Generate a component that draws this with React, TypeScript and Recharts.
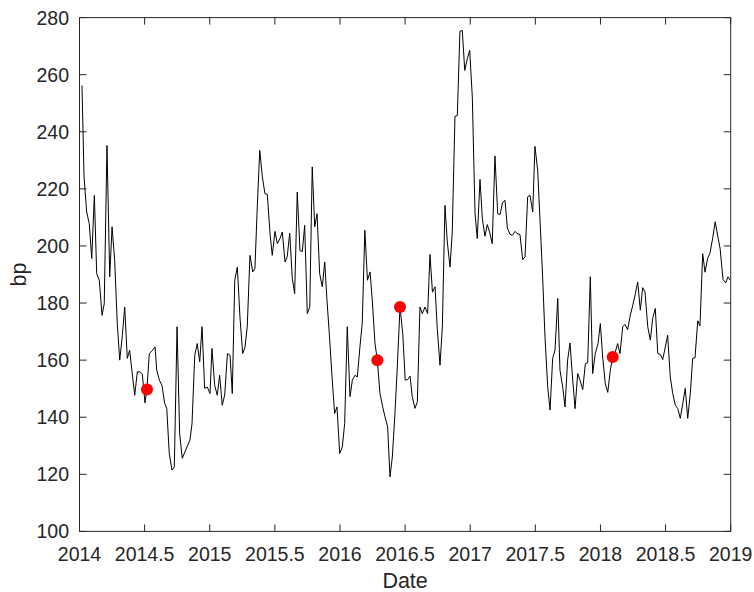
import React from 'react';
import { ComposedChart, Line, Scatter, XAxis, YAxis } from 'recharts';

const dates = [
  2014.019, 2014.035, 2014.055, 2014.075, 2014.094, 2014.114, 2014.132, 2014.152, 2014.173, 2014.190,
  2014.211, 2014.232, 2014.250, 2014.270, 2014.290, 2014.309, 2014.329, 2014.347, 2014.367, 2014.385,
  2014.405, 2014.424, 2014.444, 2014.465, 2014.482, 2014.503, 2014.518, 2014.536, 2014.562, 2014.580,
  2014.593, 2014.613, 2014.633, 2014.654, 2014.670, 2014.689, 2014.710, 2014.728, 2014.749, 2014.769,
  2014.789, 2014.810, 2014.831, 2014.848, 2014.864, 2014.885, 2014.904, 2014.923, 2014.941, 2014.961,
  2014.981, 2015.002, 2015.017, 2015.038, 2015.058, 2015.076, 2015.096, 2015.115, 2015.136, 2015.156,
  2015.173, 2015.192, 2015.212, 2015.232, 2015.253, 2015.271, 2015.288, 2015.309, 2015.330, 2015.347,
  2015.365, 2015.384, 2015.404, 2015.424, 2015.442, 2015.463, 2015.480, 2015.501, 2015.519, 2015.539,
  2015.557, 2015.578, 2015.595, 2015.614, 2015.634, 2015.652, 2015.672, 2015.693, 2015.711, 2015.729,
  2015.749, 2015.768, 2015.787, 2015.806, 2015.824, 2015.844, 2015.864, 2015.883, 2015.900, 2015.918,
  2015.939, 2015.959, 2015.977, 2015.998, 2016.018, 2016.036, 2016.056, 2016.077, 2016.095, 2016.115,
  2016.133, 2016.154, 2016.171, 2016.191, 2016.211, 2016.231, 2016.248, 2016.269, 2016.287, 2016.307,
  2016.328, 2016.346, 2016.366, 2016.384, 2016.402, 2016.422, 2016.440, 2016.461, 2016.482, 2016.501,
  2016.520, 2016.538, 2016.555, 2016.576, 2016.594, 2016.614, 2016.632, 2016.653, 2016.673, 2016.691,
  2016.710, 2016.730, 2016.747, 2016.768, 2016.786, 2016.806, 2016.824, 2016.845, 2016.862, 2016.883,
  2016.901, 2016.921, 2016.939, 2016.958, 2016.978, 2016.996, 2017.016, 2017.037, 2017.054, 2017.075,
  2017.093, 2017.113, 2017.131, 2017.152, 2017.169, 2017.190, 2017.211, 2017.229, 2017.248, 2017.267,
  2017.285, 2017.305, 2017.323, 2017.344, 2017.361, 2017.382, 2017.403, 2017.421, 2017.441, 2017.459,
  2017.480, 2017.497, 2017.518, 2017.536, 2017.556, 2017.574, 2017.595, 2017.613, 2017.633, 2017.651,
  2017.672, 2017.689, 2017.710, 2017.728, 2017.748, 2017.766, 2017.787, 2017.805, 2017.825, 2017.843,
  2017.864, 2017.884, 2017.902, 2017.922, 2017.940, 2017.960, 2017.981, 2017.999, 2018.017, 2018.037,
  2018.056, 2018.076, 2018.094, 2018.114, 2018.132, 2018.150, 2018.171, 2018.188, 2018.209, 2018.229,
  2018.248, 2018.268, 2018.286, 2018.306, 2018.324, 2018.342, 2018.363, 2018.383, 2018.401, 2018.421,
  2018.440, 2018.460, 2018.478, 2018.498, 2018.516, 2018.536, 2018.555, 2018.575, 2018.593, 2018.613,
  2018.632, 2018.651, 2018.670, 2018.690, 2018.708, 2018.726, 2018.747, 2018.764, 2018.785, 2018.803,
  2018.823, 2018.841, 2018.863, 2018.881, 2018.901, 2018.919, 2018.941, 2018.962, 2018.979, 2018.997,
];

const spreads = [
  256.2, 224.2, 211.9, 207.8, 195.6, 217.7, 190.3, 188, 175.7, 179.8,
  235.2, 189.2, 206.7, 195, 172.8, 160, 168.7, 178.6, 160.6, 163.5,
  155.3, 147.7, 155.9, 155.9, 155.1, 145, 150, 162.3, 163.5, 164.6,
  156.5, 153, 151.2, 144.8, 143.1, 127.3, 121.5, 122.6, 171.7, 134.3,
  125.6, 127.9, 130.2, 132, 137.8, 161.7, 165.8, 159.4, 171.7, 150.1,
  150.6, 148.3, 164.1, 151.2, 147.7, 154.7, 144.2, 147.8, 162.3, 161.7,
  148.3, 188, 192.6, 175.1, 162.3, 164.6, 171.7, 196.7, 190.9, 192.1,
  213.7, 233.5, 224.2, 218.3, 218.1, 204.3, 196.7, 205.1, 200.8, 202.6,
  204.9, 194.4, 196.2, 204.5, 188.6, 183.3, 218.9, 198.3, 198.1, 207.2,
  176.3, 178.6, 227.7, 206.7, 211.3, 190.3, 185.7, 194.4, 181, 169.3,
  154.1, 141.3, 143.6, 127.3, 129.6, 137.8, 171.7, 147.2, 153, 154.7,
  154.1, 165, 173, 205.5, 188, 190.9, 181, 165.8, 160, 148.3,
  143.6, 140.1, 136.6, 119.1, 126.1, 141.3, 157.6, 178.6, 169.3, 153,
  153.2, 154.4, 147.2, 143.1, 145.4, 178.6, 176.3, 178.6, 176.3, 197,
  183.8, 185.7, 171, 158.2, 171.7, 214.2, 201.4, 192.6, 204.9, 245.4,
  245.7, 275.2, 275.5, 261.5, 265.6, 268.5, 252.2, 211.3, 202.6, 223.3,
  209.6, 203.4, 207.5, 204.3, 200.8, 231.5, 211.3, 211, 215.2, 216,
  206.4, 204.1, 203.7, 205.1, 204.3, 204, 195.2, 196.2, 217.2, 217.7,
  211.9, 234.9, 226.5, 209, 189.2, 168.2, 150.6, 142.5, 160.6, 163.5,
  181.6, 156.5, 150.6, 143.6, 160, 166, 153, 143, 155.3, 153,
  149.7, 158.8, 159.1, 189.2, 155.3, 162.3, 165.8, 172.8, 161.1, 151.8,
  148.7, 156.5, 161.1, 162.9, 165.8, 162.3, 171.7, 172.5, 170.7, 175.7,
  179.2, 183.3, 187.4, 177.5, 185.4, 183.9, 171.7, 167, 174.6, 178.1,
  162.3, 162, 160.2, 164.6, 168.7, 154.1, 148.3, 144.2, 143.1, 139.6,
  144.8, 150.1, 139.6, 148.3, 160.6, 160.8, 173.8, 172, 197.3, 190.8,
  195.7, 197.5, 203.1, 208.5, 203.4, 199, 188.2, 187.1, 189.2, 188,
];

const markerDates = [2014.518, 2016.287, 2016.461, 2018.094];
const markerValues = [149.7, 160, 178.6, 161.1];

const xTicks = [2014, 2014.5, 2015, 2015.5, 2016, 2016.5, 2017, 2017.5, 2018, 2018.5, 2019];
const yTicks = [100, 120, 140, 160, 180, 200, 220, 240, 260, 280];

const lineData = dates.map((t, i) => ({ t, v: spreads[i] }));
const markerData = markerDates.map((t, i) => ({ t, v: markerValues[i] }));

const AXIS = '#262626';
const FONT = '"Liberation Sans", Arial, Helvetica, sans-serif';
const TICK_FS = 19.5;
const LABEL_FS = 21.5;
const TL = 7;

const BottomTick = (props: any) => {
  const { x, y, payload } = props;
  return (
    <g>
      <line x1={x} x2={x} y1={y} y2={y - TL} stroke={AXIS} strokeWidth={1} />
      <text x={x} y={y + 29.5} textAnchor="middle" fill={AXIS} fontSize={TICK_FS} fontFamily={FONT}>
        {String(payload.value)}
      </text>
    </g>
  );
};

const TopTick = (props: any) => {
  const { x, y } = props;
  return <line x1={x} x2={x} y1={y} y2={y + TL} stroke={AXIS} strokeWidth={1} />;
};

const LeftTick = (props: any) => {
  const { x, y, payload } = props;
  return (
    <g>
      <line x1={x} x2={x + TL} y1={y} y2={y} stroke={AXIS} strokeWidth={1} />
      <text x={x - 10.5} y={y + 7} textAnchor="end" fill={AXIS} fontSize={TICK_FS} fontFamily={FONT}>
        {String(payload.value)}
      </text>
    </g>
  );
};

const RightTick = (props: any) => {
  const { x, y } = props;
  return <line x1={x} x2={x - TL} y1={y} y2={y} stroke={AXIS} strokeWidth={1} />;
};

const Dot = (props: any) => {
  const { cx, cy } = props;
  if (cx == null || cy == null) return null;
  return <circle cx={cx} cy={cy} r={6} fill="#ff0000" stroke="none" />;
};

export default function App() {
  return (
    <div style={{ position: 'absolute', left: 0, top: 0, width: 754, height: 592, background: '#ffffff' }}>
      <ComposedChart
        width={754}
        height={592}
        data={lineData}
        style={{ overflow: 'visible' }}
        margin={{ top: 16.6, right: 22.3, bottom: 5.6, left: 15.5 }}
      >
        <XAxis
          xAxisId="b"
          type="number"
          dataKey="t"
          domain={[2014, 2019]}
          ticks={xTicks}
          allowDataOverflow
          orientation="bottom"
          height={55}
          tickSize={0}
          tickMargin={0}
          axisLine={{ stroke: AXIS, strokeWidth: 1 }}
          tickLine={false}
          tick={BottomTick}
          interval={0}
          label={{ value: 'Date', position: 'insideBottom', offset: -2, style: { fill: AXIS, fontSize: LABEL_FS, fontFamily: FONT } }}
        />
        <XAxis
          xAxisId="top"
          type="number"
          dataKey="t"
          domain={[2014, 2019]}
          ticks={xTicks}
          allowDataOverflow
          orientation="top"
          height={1}
          tickSize={0}
          tickMargin={0}
          axisLine={{ stroke: AXIS, strokeWidth: 1 }}
          tickLine={false}
          tick={TopTick}
          interval={0}
        />
        <YAxis
          yAxisId="l"
          type="number"
          domain={[100, 280]}
          ticks={yTicks}
          allowDataOverflow
          orientation="left"
          width={64}
          tickSize={0}
          tickMargin={0}
          axisLine={{ stroke: AXIS, strokeWidth: 1 }}
          tickLine={false}
          tick={LeftTick}
          interval={0}
          label={{ value: 'bp', angle: -90, position: 'insideLeft', offset: 3, style: { fill: AXIS, fontSize: LABEL_FS, fontFamily: FONT, textAnchor: 'middle' } }}
        />
        <YAxis
          yAxisId="r"
          type="number"
          domain={[100, 280]}
          ticks={yTicks}
          allowDataOverflow
          orientation="right"
          width={1}
          tickSize={0}
          tickMargin={0}
          axisLine={{ stroke: AXIS, strokeWidth: 1 }}
          tickLine={false}
          tick={RightTick}
          interval={0}
        />
        <Line
          xAxisId="b"
          yAxisId="l"
          type="linear"
          dataKey="v"
          stroke="#000000"
          strokeWidth={1}
          dot={false}
          activeDot={false}
          isAnimationActive={false}
        />
        <Scatter
          xAxisId="b"
          yAxisId="l"
          data={markerData}
          dataKey="v"
          shape={Dot}
          isAnimationActive={false}
        />
      </ComposedChart>
    </div>
  );
}
